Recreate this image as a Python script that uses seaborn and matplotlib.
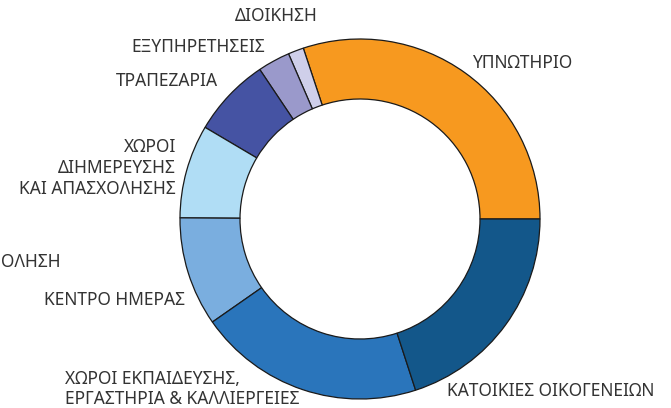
import matplotlib
matplotlib.use("Agg")
import matplotlib.pyplot as plt
import seaborn as sns

sns.set_theme(style="white")
plt.rcParams['font.family'] = ['Noto Sans', 'DejaVu Sans']

# Data (counter-clockwise from 3 o'clock)
categories = ["ΥΠΝΩΤΗΡΙΟ", "ΔΙΟΙΚΗΣΗ", "ΕΞΥΠΗΡΕΤΗΣΕΙΣ", "ΤΡΑΠΕΖΑΡΙΑ",
              "ΧΩΡΟΙ\nΔΙΗΜΕΡΕΥΣΗΣ\nΚΑΙ ΑΠΑΣΧΟΛΗΣΗΣ", "ΚΕΝΤΡΟ ΗΜΕΡΑΣ",
              "ΧΩΡΟΙ ΕΚΠΑΙΔΕΥΣΗΣ,\nΕΡΓΑΣΤΗΡΙΑ & ΚΑΛΛΙΕΡΓΕΙΕΣ", "ΚΑΤΟΙΚΙΕΣ ΟΙΚΟΓΕΝΕΙΩΝ"]
values = [30.1, 1.4, 2.9, 7.1, 8.4, 9.8, 20.3, 20.0]
colors = ["#F7991F", "#CFCFEA", "#9A99CB", "#4553A3",
          "#B0DDF5", "#7AAEDF", "#2A75BB", "#13578A"]
extra_label = "ΟΛΗΣΗ"

W, H = 671, 408
fig = plt.figure(figsize=(W / 100, H / 100), dpi=100)
ax = fig.add_axes([0, 0, 1, 1])

cx, cy, R = 360, H - 219, 180
ax.pie(values, colors=sns.color_palette(colors), startangle=0, counterclock=True,
       center=(cx, cy), radius=R,
       wedgeprops=dict(width=60, edgecolor="#1a1a1a", linewidth=0.9))
ax.set_xlim(0, W)
ax.set_ylim(0, H)
ax.set_aspect('equal')
ax.axis('off')

tc = "#333333"
fs = 12.5
# label placements (x, y_img, ha)
placements = [
    (472, 63, 'left'),
    (318, 16, 'right'),
    (265, 47, 'right'),
    (218, 81, 'right'),
    (176, 168, 'right'),
    (185, 300, 'right'),
    (65, 389, 'left'),
    (447, 391, 'left'),
]
for lab, (x, y, ha) in zip(categories, placements):
    ax.text(x, H - y, lab, ha=ha, va='center', fontsize=fs, color=tc,
            linespacing=1.2, multialignment=ha)
ax.text(1, H - 262, extra_label, ha='left', va='center', fontsize=fs, color=tc)

fig.savefig("out.png", dpi=100)
